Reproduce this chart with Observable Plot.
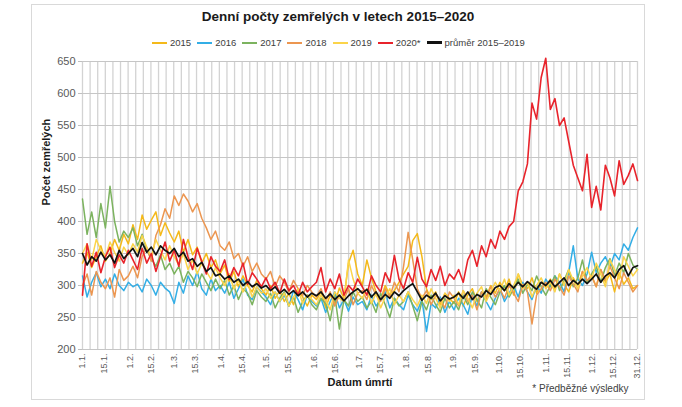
<!DOCTYPE html>
<html><head><meta charset="utf-8">
<script src="https://cdn.jsdelivr.net/npm/d3@7"></script>
<script src="https://cdn.jsdelivr.net/npm/@observablehq/plot@0.6"></script>
<style>
body{margin:0;background:#fff;font-family:"Liberation Sans",Arial,sans-serif;}
#wrap{position:relative;width:682px;height:407px;overflow:hidden;background:#fff}
#frame{position:absolute;left:31px;top:4px;width:612px;height:394px;border:1px solid #d9d9d9;pointer-events:none}
#title{position:absolute;top:9px;left:0;width:676px;text-align:center;font-weight:bold;font-size:13.5px;color:#1a1a1a}
#legend{position:absolute;top:37px;left:152px;display:flex;align-items:center;font-size:9.5px;color:#404040;white-space:nowrap}
.sw{display:inline-block;width:15px;height:2px;margin-right:3px}
.it{display:flex;align-items:center;margin-right:6px}
#chart{position:absolute;top:52px;left:0}
</style></head><body>
<div id="wrap"><div id="title">Denní počty zemřelých v letech 2015–2020</div><div id="legend"></div><div id="chart"></div><div id="frame"></div></div>
<script>
const seriesNames = ["2015","2016","2017","2018","2019","2020*","průměr 2015–2019"];
const seriesColors = ["#f4b91a","#33aee6","#7cb35f","#ec9650","#fbd44a","#e8232b","#111111"];
const seriesWidths = [1.5,1.5,1.5,1.5,1.5,1.6,1.7];

const y2015 = [335,352,328,345,362,338,350,372,355,380,365,
395,372,410,388,402,415,378,398,382,
368,385,352,372,348,360,335,350,328,340,
318,332,305,322,298,315,300,290,308,295,
285,300,280,292,275,288,270,295,282,268,285,
278,290,265,285,272,296,280,335,355,318,
300,340,312,290,278,300,285,292,305,318,
330,370,381,345,295,278,290,270,288,280,
272,290,268,285,295,275,290,282,300,288,
305,292,310,285,318,300,295,312,288,305,298,
310,295,318,302,290,312,300,322,305,
315,298,325,305,318,290,320,302,312,295,300];
const y2016 = [315,282,305,320,298,310,295,318,300,292,305,
298,302,290,310,300,285,305,296,290,
272,305,288,315,300,322,295,285,310,292,
300,288,305,280,295,310,285,278,298,290,
282,270,290,275,285,268,292,278,262,285,275,
268,280,258,275,290,265,278,260,282,270,
275,262,285,268,278,290,265,280,270,262,
285,270,260,278,228,272,265,282,258,275,
262,280,270,255,285,268,290,275,262,280,
295,275,288,300,282,305,290,278,300,288,310,
298,315,305,290,320,362,310,300,318,
352,320,335,345,328,350,340,365,355,375,390];
const y2017 = [435,380,415,375,428,390,455,400,368,385,375,
390,362,380,355,342,330,348,325,335,
318,330,305,322,312,298,318,305,292,310,
295,308,285,300,278,295,288,270,292,282,
275,288,265,280,290,268,282,258,275,285,270,
262,280,272,245,285,232,278,268,290,275,
282,265,275,258,288,270,250,280,268,275,
290,268,245,275,262,285,270,258,280,265,
275,262,285,270,290,278,265,295,282,270,
290,300,282,295,310,288,302,292,315,298,285,
300,315,292,308,325,298,312,340,305,
318,330,305,328,342,315,335,320,350,332,325];
const y2018 = [300,318,285,322,305,295,312,282,325,308,315,
330,312,345,360,338,378,395,420,405,
440,425,443,432,415,428,405,390,372,385,
362,355,368,342,350,330,345,322,335,318,
310,322,298,315,305,290,308,295,285,300,290,
282,295,275,290,268,285,278,295,270,288,
292,278,300,285,275,295,282,305,290,330,
383,340,295,280,292,270,285,278,265,290,
280,268,292,275,285,262,290,278,298,282,
295,280,300,288,275,302,290,240,285,295,305,
292,310,298,285,315,302,290,322,308,
315,298,325,308,330,312,295,320,305,290,300];
const y2019 = [350,365,340,372,355,345,368,352,338,360,348,
365,352,378,360,345,372,355,340,362,
345,332,350,325,340,318,335,322,310,328,
312,300,318,295,308,290,305,282,298,288,
295,280,290,275,288,268,282,295,272,285,278,
270,285,278,262,290,280,275,340,310,288,
280,295,272,288,265,282,295,270,285,275,
290,278,268,285,272,295,280,265,288,275,
285,270,292,280,265,288,298,275,290,305,
292,310,285,300,318,295,305,282,300,312,295,
305,290,318,300,325,308,295,315,328,
310,335,318,298,340,325,310,345,330,315,325];
const y2020 = [285,365,330,352,320,345,360,328,348,335,355,
340,325,358,335,350,322,345,368,338,
355,330,372,345,325,358,338,318,345,330,
322,340,310,328,315,335,302,320,310,298,
312,295,305,288,310,292,300,285,305,290,298,
305,328,290,310,295,318,285,300,292,310,
298,285,315,300,290,320,305,347,310,295,
320,305,344,310,298,325,308,330,300,318,
310,325,305,340,355,330,362,345,372,358,
385,372,392,400,448,462,490,585,560,625,655,
575,592,550,562,525,488,468,448,505,
422,455,418,488,468,440,495,458,472,490,464];
const yAvg = [350,332,345,338,352,340,348,335,355,342,350,
358,345,367,352,360,348,362,355,350,
358,345,352,338,342,330,336,322,328,315,
318,310,315,305,310,300,306,298,303,296,
300,292,298,288,294,286,292,284,290,282,288,
284,290,280,287,278,285,276,284,290,295,
288,294,282,290,278,286,280,290,284,292,
298,303,290,277,285,280,288,276,284,279,
282,288,280,290,278,286,282,292,286,297,
300,292,303,296,305,298,306,300,294,305,300,
308,298,305,312,300,308,302,310,303,
310,318,305,315,320,312,325,331,315,328,331];
const seriesValues = [y2015,y2016,y2017,y2018,y2019,y2020,yAvg];

const yTicks = [200,250,300,350,400,450,500,550,600,650];
const xTickDays = [0,14,31,45,60,74,91,105,121,135,152,166,182,196,213,227,244,258,274,288,305,319,335,349,365];
const xTickLabels = ["1.1.","15.1.","1.2.","15.2.","1.3.","15.3.","1.4.","15.4.","1.5.","15.5.","1.6.","15.6.","1.7.","15.7.","1.8.","15.8.","1.9.","15.9.","1.10.","15.10.","1.11.","15.11.","1.12.","15.12.","31.12."];

// legend
const leg = document.getElementById("legend");
seriesNames.forEach((n,i)=>{
  const it = document.createElement("div"); it.className="it";
  const sw = document.createElement("span"); sw.className="sw"; sw.style.background=seriesColors[i];
  if (i===6) sw.style.height="2.5px";
  it.appendChild(sw); it.appendChild(document.createTextNode(n)); leg.appendChild(it);
});

const labelByDay = new Map(xTickDays.map((d,i)=>[d,xTickLabels[i]]));
const rows = [];
seriesValues.forEach((arr,s)=>{
  const n = arr.length;
  arr.forEach((v,i)=>rows.push({day: i*365/(n-1), v, s}));
});

const lineMarks = seriesNames.map((name,s)=>Plot.line(rows.filter(r=>r.s===s), {
  x:"day", y:"v", stroke: seriesColors[s], strokeWidth: seriesWidths[s], strokeLinejoin:"round"
}));

const chart = Plot.plot({
  width: 682, height: 355,
  marginLeft: 82, marginRight: 45, marginTop: 9, marginBottom: 58,
  x: {domain:[0,365]},
  y: {domain:[200,650]},
  style: {fontFamily:"'Liberation Sans', Arial, sans-serif", background:"transparent", overflow:"visible"},
  marks: [
    Plot.ruleX(d3.range(0,366,5), {stroke:"#d3d3d3", strokeWidth:1.3}),
    Plot.ruleY(yTicks, {stroke:"#c6c6c6", strokeWidth:1}),
    Plot.axisY({ticks: yTicks, tickSize:4, tickPadding:3, fontSize:11, fill:"#595959", stroke:"#bfbfbf", label:null}),
    Plot.axisX({ticks: xTickDays, tickFormat: d=>labelByDay.get(d), tickRotate:-90, tickSize:0, tickPadding:4, fontSize:9, fill:"#595959", label:null}),
    ...lineMarks,
    Plot.text(["Počet zemřelých"], {text:d=>d, frameAnchor:"left", dx:-36, rotate:-90, fontWeight:"bold", fontSize:11, fill:"#1a1a1a"}),
    Plot.text(["Datum úmrtí"], {text:d=>d, frameAnchor:"bottom", dy:36, fontWeight:"bold", fontSize:11, fill:"#1a1a1a"}),
    Plot.text(["* Předběžné výsledky"], {text:d=>d, frameAnchor:"bottom-right", dx:-9, dy:42, textAnchor:"end", fontSize:10, fill:"#404040"})
  ]
});
document.getElementById("chart").appendChild(chart);
</script>
</body></html>
